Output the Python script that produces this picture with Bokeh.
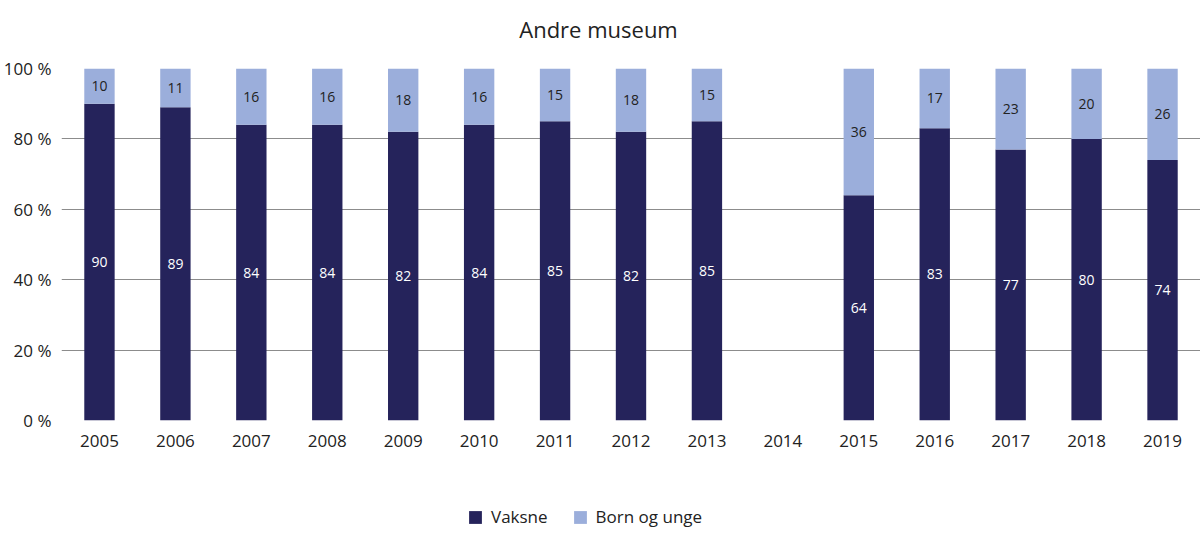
from bokeh.plotting import figure
from bokeh.layouts import column
from bokeh.models import ColumnDataSource, LabelSet, Legend, LegendItem, PrintfTickFormatter, FactorRange, Label
from bokeh.core.properties import value
from bokeh.embed import file_html
from bokeh.resources import INLINE

years = ["2005", "2006", "2007", "2008", "2009", "2010", "2011", "2012", "2013",
         "2014", "2015", "2016", "2017", "2018", "2019"]
vaksne = [90, 89, 84, 84, 82, 84, 85, 82, 85, None, 64, 83, 77, 80, 74]
born = [10, 11, 16, 16, 18, 16, 15, 18, 15, None, 36, 17, 23, 20, 26]
series_names = ["Vaksne", "Born og unge"]
title_text = "Andre museum"

NAN = float("nan")
v = [NAN if x is None else x for x in vaksne]
b = [NAN if x is None else x for x in born]
src = ColumnDataSource(dict(
    years=years, Vaksne=v, Born=b,
    v_mid=[x / 2 for x in v],
    b_mid=[x + y / 2 for x, y in zip(v, b)],
    v_txt=["" if x is None else str(x) for x in vaksne],
    b_txt=["" if x is None else str(x) for x in born],
))

FONT = "Open Sans"
DARK = "#25235b"
LIGHT = "#9baedb"
TXT = "#222222"
W = 1200


def blank(h):
    f = figure(width=W, height=h, x_range=(0, 1), y_range=(0, 1),
               output_backend="svg", toolbar_location=None,
               min_border_left=0, min_border_right=0, min_border_top=0, min_border_bottom=0)
    f.axis.visible = False
    f.grid.visible = False
    f.outline_line_color = None
    return f


# title row
tf = blank(56)
tf.add_layout(Label(x=537, y=28, x_units="screen", y_units="screen", text=title_text,
                    text_font=FONT, text_font_size="22px", text_color=TXT,
                    text_align="center", text_baseline="middle"))

# main chart
p = figure(x_range=FactorRange(*years), y_range=(0, 100), width=W, height=404,
           output_backend="svg", toolbar_location=None,
           min_border_left=60, min_border_right=0, min_border_top=12, min_border_bottom=40)
p.outline_line_color = None

p.vbar_stack(["Vaksne", "Born"], x="years", width=0.4, source=src,
             color=[DARK, LIGHT], line_color=None)

p.add_layout(LabelSet(x="years", y="v_mid", text="v_txt", source=src, text_color="white",
                      text_align="center", text_baseline="middle", text_font_size="14px",
                      text_font=value(FONT)))
p.add_layout(LabelSet(x="years", y="b_mid", text="b_txt", source=src, text_color=TXT,
                      text_align="center", text_baseline="middle", text_font_size="14px",
                      text_font=value(FONT)))

p.yaxis.ticker = [0, 20, 40, 60, 80, 100]
p.yaxis.formatter = PrintfTickFormatter(format="%d %%")
p.yaxis.axis_line_color = None
p.yaxis.major_tick_line_color = None
p.yaxis.minor_tick_line_color = None
p.yaxis.major_label_text_font = FONT
p.yaxis.major_label_text_font_size = "17px"
p.yaxis.major_label_text_color = TXT
p.yaxis.major_label_standoff = 4

p.xaxis.axis_line_color = None
p.xaxis.major_tick_line_color = None
p.xaxis.major_label_text_font = FONT
p.xaxis.major_label_text_font_size = "17px"
p.xaxis.major_label_text_color = TXT
p.xaxis.major_label_standoff = 8

p.xgrid.grid_line_color = None
p.ygrid.grid_line_color = "#8c8c8c"
p.ygrid.grid_line_width = 1

# legend row
lg = blank(80)
r1 = lg.vbar(x=[0.5], top=[0], bottom=[0], width=0.0, fill_color=DARK, line_color=None)
r2 = lg.vbar(x=[0.5], top=[0], bottom=[0], width=0.0, fill_color=LIGHT, line_color=None)
legend = Legend(items=[LegendItem(label=series_names[0], renderers=[r1]),
                       LegendItem(label=series_names[1], renderers=[r2])],
                orientation="horizontal", location=(406, 12),
                label_text_font=FONT, label_text_font_size="17px", label_text_color=TXT,
                glyph_width=16, glyph_height=16, spacing=24, label_standoff=8,
                border_line_color=None, background_fill_alpha=0, padding=0, margin=0)
lg.add_layout(legend, "center")

open("out.html", "w").write(file_html(column(tf, p, lg, spacing=0), INLINE))
